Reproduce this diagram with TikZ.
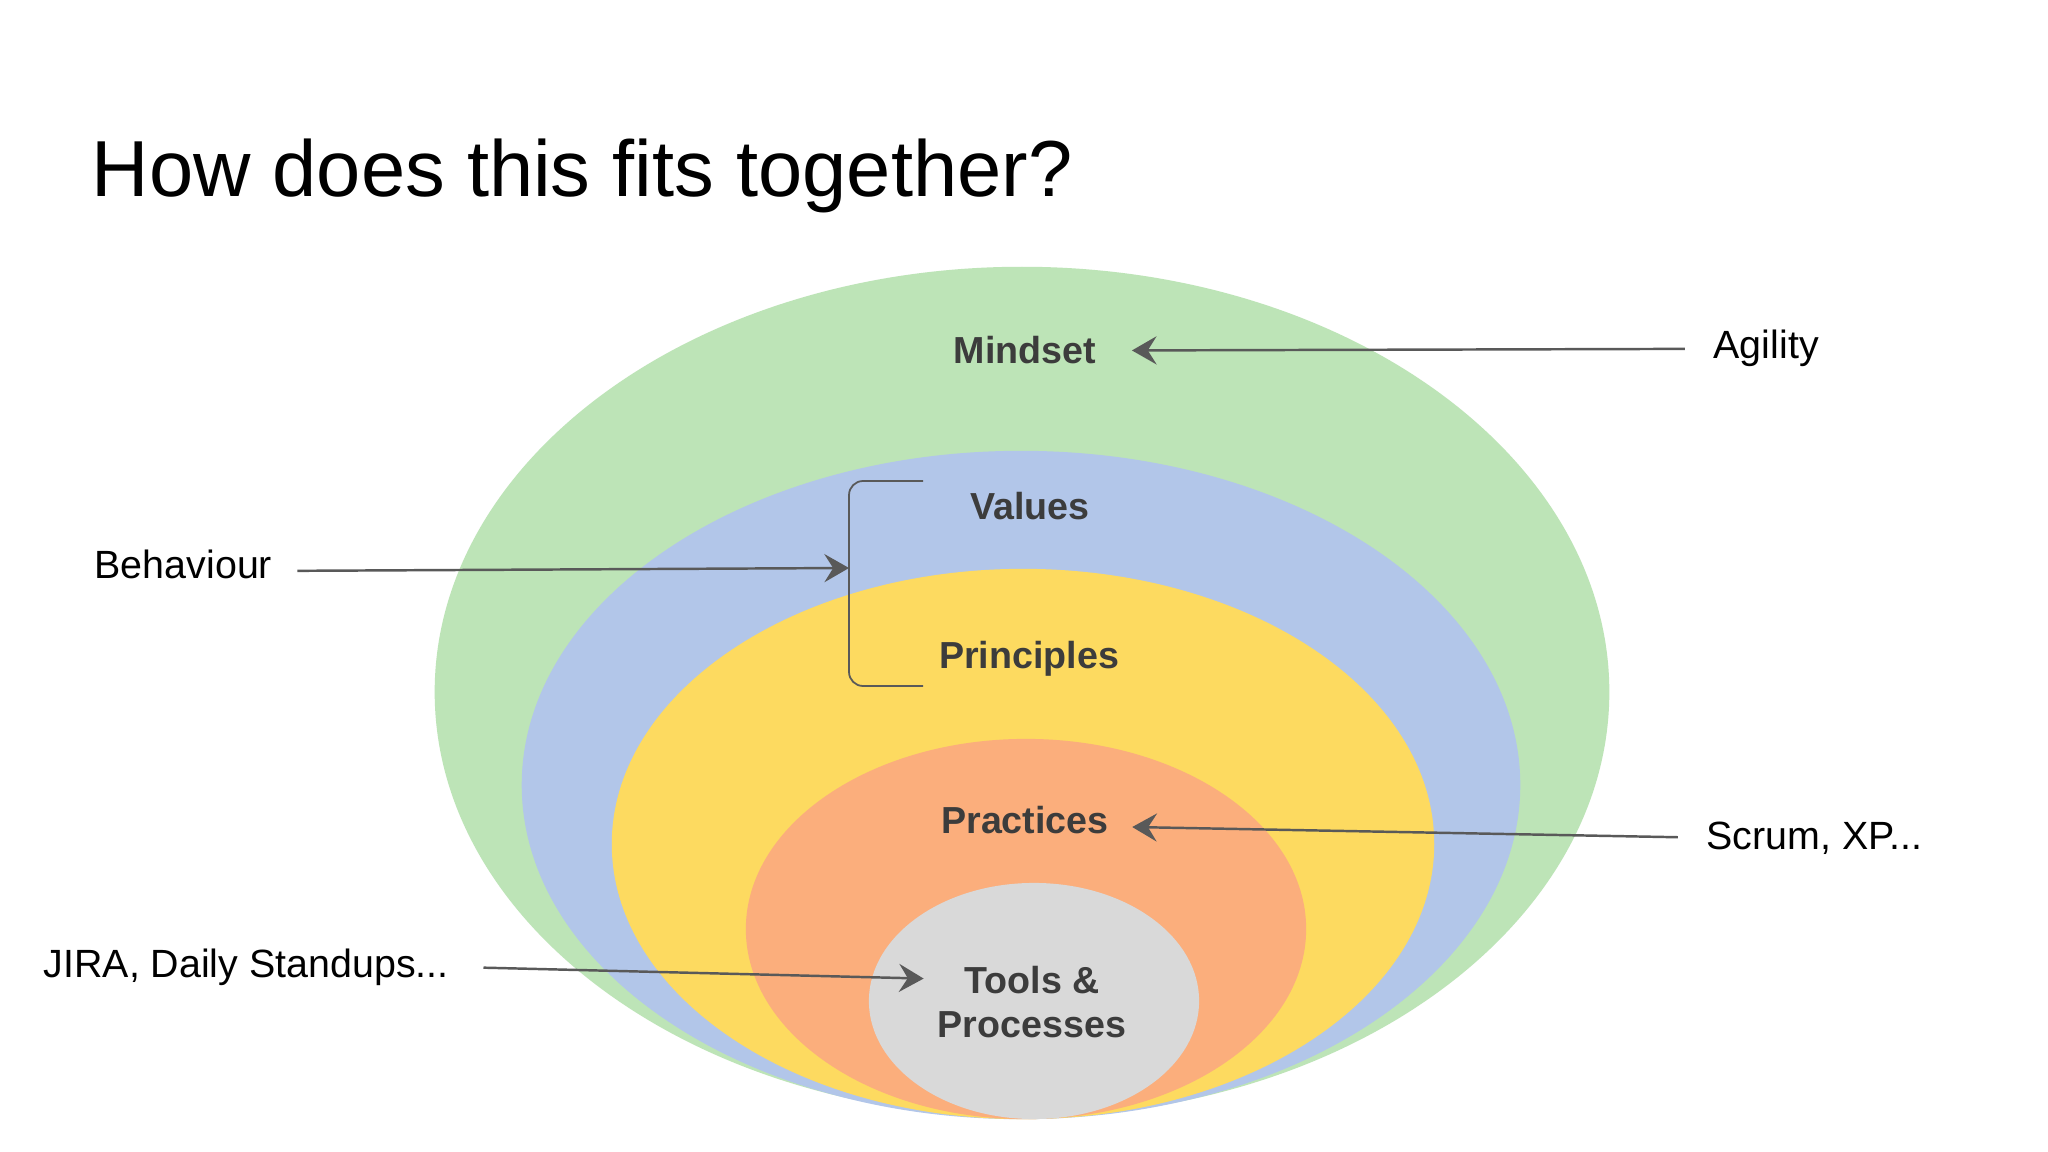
\documentclass[tikz,border=0pt]{standalone}
\usepackage{fontspec}
\setmainfont{Liberation Sans}
\usetikzlibrary{shapes.geometric,arrows.meta}

\definecolor{mindgreen}{HTML}{BDE4B7}
\definecolor{valblue}{HTML}{B2C6E9}
\definecolor{prinyellow}{HTML}{FDDA60}
\definecolor{pracorange}{HTML}{FBAE7C}
\definecolor{toolgray}{HTML}{D9D9D9}
\definecolor{inkgray}{HTML}{595959}
\definecolor{textgray}{HTML}{3C3C3C}

\tikzset{
  ring/.style={ellipse, draw=none, inner sep=0pt},
  ringlabel/.style={anchor=base, inner sep=0pt, text=textgray, font=\bfseries\fontsize{10.7}{13}\selectfont},
  sidelabel/.style={anchor=base west, inner sep=0pt, font=\fontsize{11.2}{13}\selectfont},
  pointer/.style={draw=inkgray, line width=0.7pt, -{Stealth[length=7pt,width=8pt,inset=2.5pt]}},
  bracket/.style={draw=inkgray, line width=0.5pt, rounded corners=4pt}
}

\begin{document}
\begin{tikzpicture}[x=0.01cm,y=-0.01cm]
\fill[white] (0,0) rectangle (2048,1152);
\useasboundingbox (0,0) rectangle (2048,1152);

% title
\node[anchor=base west, inner sep=0pt, font=\fontsize{22.6}{27}\selectfont] (title) at (91,197) {How does this fits together?};

% nested rings, all touching at the bottom
\node[ring, fill=mindgreen, minimum width=11.74cm, minimum height=8.50cm] (mindring) at (1022,692) {};
\node[ring, fill=valblue, minimum width=9.98cm, minimum height=6.68cm] (valring) at (1021,785) {};
\node[ring, fill=prinyellow, minimum width=8.22cm, minimum height=5.50cm] (prinring) at (1023,844) {};
\node[ring, fill=pracorange, minimum width=5.60cm, minimum height=3.80cm] (pracring) at (1026,929) {};
\node[ring, fill=toolgray, minimum width=3.30cm, minimum height=2.36cm] (toolring) at (1034,1001) {};

% ring labels
\node[ringlabel] (mindset) at (1025,364) {Mindset};
\node[ringlabel] (values) at (1030,520) {Values};
\node[ringlabel] (principles) at (1029,669) {Principles};
\node[ringlabel] (practices) at (1025,833) {Practices};
\node[ringlabel] (tools) at (1032,993) {Tools \&};
\node[ringlabel] (processes) at (1032,1037) {Processes};

% side labels
\node[sidelabel] (agility) at (1713,359) {Agility};
\node[sidelabel] (behaviour) at (94,578) {Behaviour};
\node[sidelabel] (scrum) at (1706,849) {Scrum, XP...};
\node[sidelabel] (jira) at (43,977) {JIRA, Daily Standups...};

% bracket round values and principles
\draw[bracket] (923,481) -- (849,481) -- (849,686) -- (923,686);
\coordinate (brmid) at (849,568);

% pointers
\draw[pointer, shorten <=8pt, shorten >=10pt] (agility.west) -- (mindset.east);
\draw[pointer, shorten <=7pt] ([yshift=-2pt]behaviour.east) -- (brmid);
\draw[pointer, shorten <=8pt, shorten >=6.5pt] (scrum.west) -- ([yshift=-2pt]practices.east);
\draw[pointer, shorten <=9.7pt, shorten >=11.4pt] (jira.east) -- (tools.west);
\end{tikzpicture}
\end{document}
